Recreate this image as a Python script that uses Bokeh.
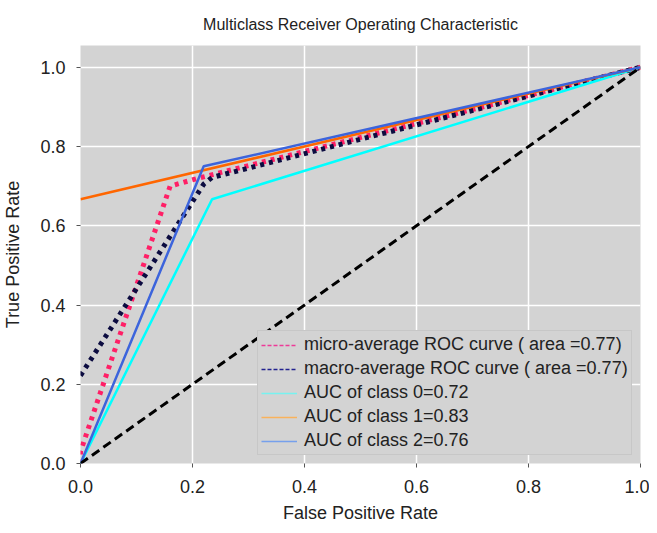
from bokeh.plotting import figure
from bokeh.models import Range1d, FixedTicker, Legend, LegendItem
from bokeh.embed import file_html
from bokeh.resources import INLINE

# ---- data ----
title_text = "Multiclass Receiver Operating Characteristic"
x_label = "False Positive Rate"
y_label = "True Positive Rate"
tick_values = [0.0, 0.2, 0.4, 0.6, 0.8, 1.0]
tick_labels = ["0.0", "0.2", "0.4", "0.6", "0.8", "1.0"]

micro_fpr = [0.0, 0.0, 0.16, 0.21, 1.0]
micro_tpr = [0.0, 0.03, 0.70, 0.72, 1.0]
micro_auc = 0.77

macro_fpr = [0.0, 0.22, 0.235, 1.0]
macro_tpr = [0.222, 0.705, 0.722, 1.0]
macro_auc = 0.77

class0_fpr = [0.0, 0.235, 1.0]
class0_tpr = [0.0, 0.667, 1.0]
class1_fpr = [0.0, 1.0]
class1_tpr = [0.667, 1.0]
class2_fpr = [0.0, 0.22, 1.0]
class2_tpr = [0.0, 0.75, 1.0]
class_auc = [0.72, 0.83, 0.76]

chance_x = [0.0, 1.0]
chance_y = [0.0, 1.0]

# off-range points used only for the legend swatches
swatch_x = [-2.0, -1.5]
swatch_y = [-2.0, -1.5]

FONT = "Liberation Sans"
TXT = "#222222"

p = figure(width=649, height=525, output_backend="svg", toolbar_location=None,
           x_range=Range1d(0, 1), y_range=Range1d(0, 1.055),
           min_border_left=79, min_border_right=9, min_border_top=45, min_border_bottom=62)

p.background_fill_color = "#d3d3d3"
p.border_fill_color = "white"
p.outline_line_color = None

p.title.text = title_text
p.title.align = "center"
p.title.text_font = FONT
p.title.text_font_size = "16px"
p.title.text_font_style = "normal"
p.title.text_color = TXT
p.title.standoff = 26

for ax in (p.xaxis[0], p.yaxis[0]):
    ax.ticker = FixedTicker(ticks=tick_values)
    ax.major_label_overrides = {v: s for v, s in zip(tick_values, tick_labels)}
    ax.axis_line_color = None
    ax.major_tick_in = 0
    ax.major_tick_out = 4
    ax.major_tick_line_color = "#555555"
    ax.minor_tick_line_color = None
    ax.major_label_text_font = FONT
    ax.major_label_text_font_size = "18px"
    ax.major_label_text_color = TXT
    ax.axis_label_text_font = FONT
    ax.axis_label_text_font_size = "18px"
    ax.axis_label_text_font_style = "normal"
    ax.axis_label_text_color = TXT

p.xaxis.axis_label = x_label
p.yaxis.axis_label = y_label
p.xaxis.major_label_standoff = 12
p.xaxis.axis_label_standoff = 7
p.yaxis.major_label_standoff = 11
p.yaxis.axis_label_standoff = 14

p.xgrid.ticker = FixedTicker(ticks=tick_values)
p.ygrid.ticker = FixedTicker(ticks=tick_values)
p.grid.grid_line_color = "white"
p.grid.grid_line_width = 1.5

# ---- curves ----
p.line(micro_fpr, micro_tpr, line_color="#ff1f66", line_width=5, line_dash="4 5")
p.line(macro_fpr, macro_tpr, line_color="#0c0c40", line_width=5, line_dash="4 5")
p.line(class0_fpr, class0_tpr, line_color="#00ffff", line_width=2.5)
p.line(class1_fpr, class1_tpr, line_color="#ff6600", line_width=2.5)
p.line(class2_fpr, class2_tpr, line_color="#3c64dc", line_width=2.5)
p.line(chance_x, chance_y, line_color="black", line_width=3, line_dash="9 5")

# ---- legend swatches ----
sw = [
    p.line(swatch_x, swatch_y, line_color="#ee3a98", line_width=1.5, line_dash="4 2"),
    p.line(swatch_x, swatch_y, line_color="#22228f", line_width=1.5, line_dash="4 2"),
    p.line(swatch_x, swatch_y, line_color="#76f2f0", line_width=1.5),
    p.line(swatch_x, swatch_y, line_color="#f9b25c", line_width=1.5),
    p.line(swatch_x, swatch_y, line_color="#76a0ec", line_width=1.5),
]

labels = [
    "micro-average ROC curve ( area ={:.2f})".format(micro_auc),
    "macro-average ROC curve ( area ={:.2f})".format(macro_auc),
] + ["AUC of class {}={:.2f}".format(i, a) for i, a in enumerate(class_auc)]

legend = Legend(items=[LegendItem(label=l, renderers=[r]) for l, r in zip(labels, sw)],
                location=(177, 8))
legend.label_text_font = FONT
legend.label_text_font_size = "18px"
legend.label_text_color = TXT
legend.glyph_width = 36
legend.glyph_height = 20
legend.label_height = 20
legend.label_standoff = 7
legend.spacing = 3
legend.padding = 3
legend.margin = 0
legend.background_fill_color = "#d3d3d3"
legend.background_fill_alpha = 1.0
legend.border_line_color = "#bcbcbc"
legend.border_line_width = 1
p.add_layout(legend, "center")

open("out.html", "w").write(file_html(p, INLINE))
